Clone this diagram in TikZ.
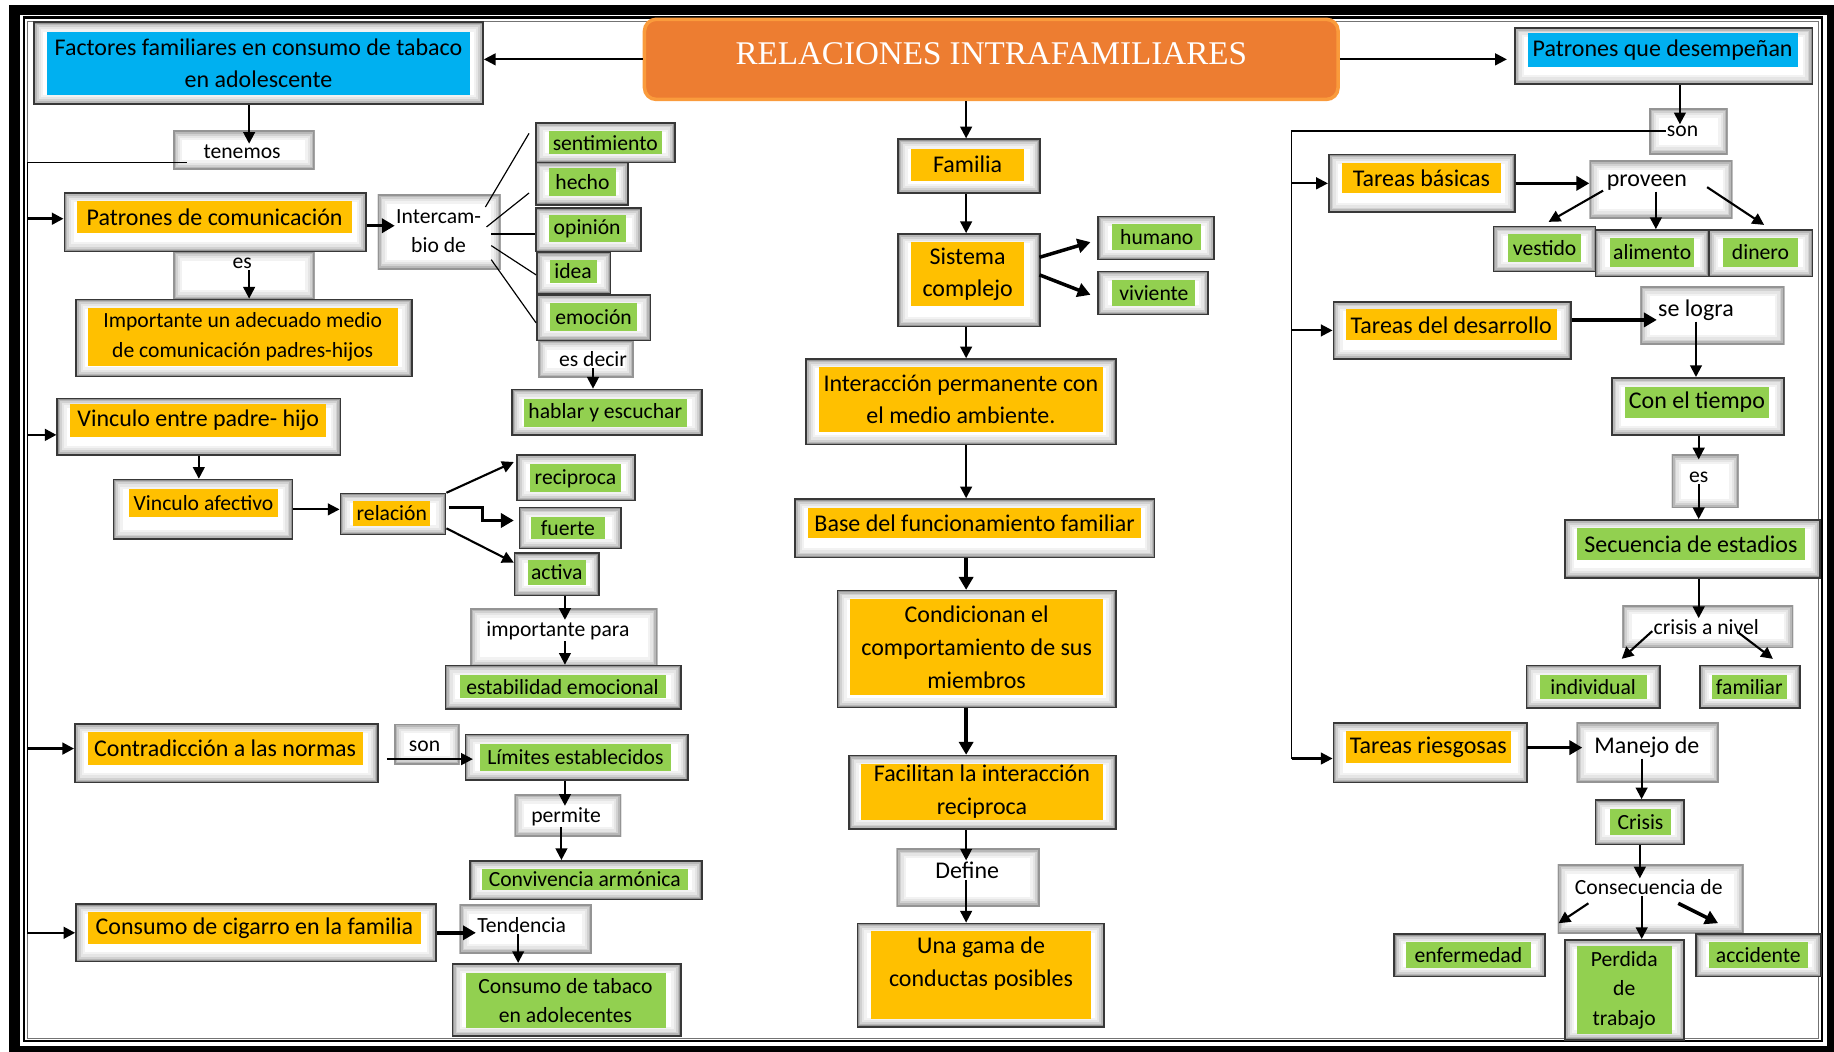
\documentclass[tikz,border=0pt]{standalone}
\usepackage{fontspec}
\setmainfont{Carlito}
\newfontfamily\titulo{Liberation Serif}
\usetikzlibrary{arrows.meta,fit}
\definecolor{amarillo}{RGB}{255,192,0}
\definecolor{verde}{RGB}{146,208,80}
\definecolor{azul}{RGB}{0,176,240}
\definecolor{naranja}{RGB}{237,125,49}
\definecolor{naranjaclaro}{RGB}{250,155,60}
\newcommand\grande{\fontsize{20.5}{28}\selectfont}
\newcommand\chico{\fontsize{18.5}{25}\selectfont}
\tikzset{
  brillo/.style={path picture={\foreach \w/\c in {16/5,12/10,8/18,5/28,2.5/42}
    \draw[line width=\w pt,black!\c] (path picture bounding box.south west) rectangle (path picture bounding box.north east);}},
  marco/.style={draw=black!78,line width=1.4pt,fill=white,inner sep=0pt,brillo},
  vacio/.style={fill=white,inner sep=0pt,brillo},
  cabecera/.style={fill=naranja,draw=naranjaclaro,line width=3pt,rounded corners=10pt,inner sep=0pt},
  amarillo/.style={fill=amarillo,inner sep=0pt},
  verde/.style={fill=verde,inner sep=0pt},
  azul/.style={fill=azul,inner sep=0pt},
  g/.style={font=\grande},
  c/.style={font=\chico},
  palabra/.style={inner sep=1pt,align=center},
  flecha/.style={line width=1.8pt,-{Triangle[length=10pt,width=10pt]}},
  gruesa/.style={line width=3pt,-{Triangle[length=11pt,width=12pt]}},
  linea/.style={line width=1pt}
}
\newcommand\concepto[6]{\node[marco,fit={#2}] (#1) {}; \node[#3,fit={#4}] (#1x) {}; \node[palabra,#5] (#1t) at (#1x) {#6};}
\newcommand\enlace[5]{\node[vacio,fit={#2}] (#1) {}; \node[palabra,#3] (#1x) at #4 {#5};}
\begin{document}
\begin{tikzpicture}[x=1pt,y=-1pt]
  \useasboundingbox (0,0) rectangle (1568,898.6);
  \draw[line width=9pt] (12.4,8.6) rectangle (1566.3,898.9);
  \draw[line width=2.2pt] (20.4,15.2) rectangle (1557.7,890);
  \draw[line width=0.9pt,black!55] (23.2,18.3) rectangle (1555,887.5);

  \enlace{ten}{(148,112) (269,145)}{c}{(207,130)}{tenemos}
  \enlace{es}{(148,215) (269,256)}{c}{(207,225)}{es}
  \enlace{inter}{(323,166) (428,230)}{c}{(375,197.5)}{Intercam-\\bio de}
  \enlace{esd}{(460,291) (542,323)}{c}{(507,307)}{es decir}
  \enlace{impp}{(402,520) (562,570)}{c}{(477,539)}{importante para}
  \enlace{son}{(337,619) (393,654)}{c}{(363,638)}{son}
  \enlace{perm}{(440,679) (531,715)}{c}{(484,698)}{permite}
  \enlace{tend}{(393,773) (506,815)}{c}{(446,791)}{Tendencia}
  \enlace{def}{(766.6,725.6) (889,774.7)}{g}{(827,744)}{Define}
  \enlace{sond}{(1410,92.6) (1477,132)}{c}{(1438.5,112)}{son}
  \enlace{prov}{(1359,137.6) (1481,186.7)}{g}{(1408,156)}{proveen}
  \enlace{selo}{(1402.5,245) (1525.5,294.4)}{g}{(1450,265)}{se logra}
  \enlace{esr}{(1429.3,389) (1486.5,434.3)}{c}{(1452.3,408)}{es}
  \enlace{niv}{(1387,517.3) (1533,554)}{c}{(1458.8,536.2)}{crisis a nivel}
  \enlace{man}{(1348,618) (1469.6,669)}{g}{(1408,638.5)}{Manejo de}
  \enlace{cons}{(1331.8,739) (1490.8,797.7)}{c}{(1409.6,758.7)}{Consecuencia de}

  \node[cabecera,fit={(551,16.5) (1144,85)}] (tit) {};
  \node[palabra,text=white,font={\titulo\fontsize{28.3}{32}\selectfont}] (titt) at ([shift={(0,-5)}]tit.center) {RELACIONES INTRAFAMILIARES};

  \concepto{fac}{(29,19) (413,89)}{azul}{(40,27) (402,81)}{g}{Factores familiares en consumo de tabaco\\en adolescente}
  \concepto{pc}{(55,165) (313,215)}{amarillo}{(66,172) (301,199)}{g}{Patrones de comunicación}
  \concepto{imp}{(65,256) (352,322)}{amarillo}{(75,263) (340,313)}{c}{Importante un adecuado medio\\de comunicación padres-hijos}
  \concepto{sen}{(458,105) (577,139)}{verde}{(469,112) (566,132)}{c}{sentimiento}
  \concepto{hec}{(458,139) (537,175)}{verde}{(469,144) (527,168)}{c}{hecho}
  \concepto{opi}{(458,178) (548,215)}{verde}{(469,184) (535,207)}{c}{opinión}
  \concepto{ide}{(459,216) (522,251)}{verde}{(470,222) (510,242)}{c}{idea}
  \concepto{emo}{(459,252) (556,291)}{verde}{(470,259) (545,283)}{c}{emoción}
  \concepto{hab}{(438,333) (600,372)}{verde}{(448,341) (587,365)}{c}{hablar y escuchar}
  \concepto{vin}{(49,340.6) (291,389)}{amarillo}{(60,345) (279,374)}{g}{Vinculo entre padre- hijo}
  \concepto{vaf}{(97,410) (250,461)}{amarillo}{(110,418) (238,442)}{c}{Vinculo afectivo}
  \concepto{rel}{(291,422) (381,457)}{amarillo}{(302,428) (368,450)}{c}{relación}
  \concepto{rec}{(442,389) (543,428)}{verde}{(453,397) (531,421)}{c}{reciproca}
  \concepto{fue}{(444,434) (531,469)}{verde}{(454,442) (517,461)}{c}{fuerte}
  \concepto{act}{(440,473) (512,509)}{verde}{(451,479) (501,500)}{c}{activa}
  \concepto{est}{(381,569) (582,606)}{verde}{(393,577) (569,597)}{c}{estabilidad emocional}
  \concepto{con}{(64,619) (323,669)}{amarillo}{(75,626) (310,654)}{g}{Contradicción a las normas}
  \concepto{lim}{(398,628) (588,667)}{verde}{(410,636) (574,659)}{c}{Límites establecidos}
  \concepto{arm}{(402,736) (600,769)}{verde}{(412,743) (588,761)}{c}{Convivencia armónica}
  \concepto{cig}{(65,773) (373,822)}{amarillo}{(75,780) (360,807)}{g}{Consumo de cigarro en la familia}
  \concepto{tab}{(387,824) (582,886)}{verde}{(398,832) (569,879)}{c}{Consumo de tabaco\\en adolecentes}

  \concepto{fam}{(768,119) (889,165)}{amarillo}{(779,127) (875.5,154.5)}{g}{Familia}
  \concepto{sis}{(768,200) (889,279)}{amarillo}{(779,207) (875.5,262)}{g}{Sistema\\complejo}
  \concepto{hum}{(939,185) (1038,222)}{verde}{(951,191.5) (1027,214)}{c}{humano}
  \concepto{viv}{(939,232) (1033,269)}{verde}{(951,239) (1022,262)}{c}{viviente}
  \concepto{int}{(689,307) (954,380)}{amarillo}{(700,314) (943,369)}{g}{Interacción permanente con\\el medio ambiente.}
  \concepto{bas}{(679.7,426.7) (987,476.5)}{amarillo}{(691,434) (975.5,460)}{g}{Base del funcionamiento familiar}
  \concepto{cnd}{(716,505) (954,605)}{amarillo}{(727,512.5) (943,594)}{g}{Condicionan el\\comportamiento de sus\\miembros}
  \concepto{fcl}{(726,646) (954,709)}{amarillo}{(736,653) (943,701)}{g}{Facilitan la interacción\\reciproca}
  \concepto{gam}{(733,789.5) (944,878)}{amarillo}{(745,796) (932.5,871.4)}{g,yshift=10pt}{Una gama de\\conductas posibles}

  \concepto{pqd}{(1295,23.7) (1549.5,72)}{azul}{(1306,28.5) (1537,57)}{g}{Patrones que desempeñan}
  \concepto{tb}{(1136,132) (1295,181.5)}{amarillo}{(1147,139.6) (1283.5,165.3)}{g}{Tareas básicas}
  \concepto{ves}{(1277,193.8) (1364,232)}{verde}{(1289.4,200) (1351.8,224.3)}{c}{vestido}
  \concepto{ali}{(1364,196.6) (1461,236.5)}{verde}{(1376.4,203.8) (1448.7,228)}{c}{alimento}
  \concepto{din}{(1461,196.6) (1549.5,236.5)}{verde}{(1473.3,203.8) (1537,228)}{c}{dinero}
  \concepto{td}{(1140,258) (1343,307)}{amarillo}{(1150.4,264.5) (1331,291)}{g}{Tareas del desarrollo}
  \concepto{tie}{(1378,323) (1525.5,372)}{verde}{(1389.3,330.6) (1512.3,357)}{g}{Con el tiempo}
  \concepto{sec}{(1338,444.5) (1556,494)}{verde}{(1348,451.6) (1543.4,478.7)}{g}{Secuencia de estadios}
  \concepto{ind}{(1305,569) (1419,605.3)}{verde}{(1316.4,577) (1407.8,597.2)}{c}{individual}
  \concepto{fml}{(1453.3,569) (1538.8,605.3)}{verde}{(1463.4,577) (1527.7,597.2)}{c}{familiar}
  \concepto{tr}{(1140,618) (1305.7,669)}{amarillo}{(1150.4,625) (1291.8,652.7)}{g}{Tareas riesgosas}
  \concepto{cri}{(1364,684) (1440,722)}{verde}{(1376.4,691.7) (1428.7,714)}{c}{Crisis}
  \concepto{enf}{(1191.9,798.7) (1321,835)}{verde}{(1202,805.5) (1308.7,827.2)}{c}{enfermedad}
  \concepto{per}{(1338,803.5) (1440,889)}{verde}{(1348,809) (1429.3,884)}{c}{Perdida\\de\\trabajo}
  \concepto{acc}{(1450.2,798.7) (1557,835)}{verde}{(1461,805.5) (1545.5,827.2)}{c}{accidente}

  \coordinate (ejeI) at (23.2,139);
  \coordinate (ejeD) at (1104.3,112);
  \coordinate (ejeC) at (826,0);

  \draw[flecha] (tit.west) -- (tit.west -| fac.east);
  \draw[flecha] (tit.east) -- ([xshift=-6pt]tit.east -| pqd.west);
  \draw[flecha] (tit.south -| ejeC) -- (fam.north -| ejeC);

  \draw[flecha] ([xshift=-8pt]fac.south) -- ([xshift=-8pt]fac.south |- tenx.north);
  \draw[linea] ([shift={(12,10.5)}]ten.west) -- (ejeI) -- (ejeI |- cig);
  \foreach \n/\d in {pc/-3,vin/7,con/-4,cig/0}
    \draw[flecha,line width=2.2pt] ([shift={(0,\d)}]ejeI |- \n) -- ([shift={(0,\d)}]\n.west);
  \draw[gruesa] ([shift={(0,3)}]pc.east) -- ([shift={(0,3)}]pc.east -| interx.west);
  \draw[flecha] ([shift={(6,0)}]esx.south) -- ([shift={(6,0)}]esx.south |- imp.north);
  \foreach \n/\a/\b in {sen/{2.5,-20.5}/{-5,-8},hec/{3.5,-3.5}/{-5,8},opi/{7.5,2.5}/{0,3.5},ide/{7.5,12.5}/{0,1.5},emo/{7.5,24.5}/{0,4.5}}
    \draw[linea] ([shift={(\a)}]interx.east) -- ([shift={(\b)}]\n.west);
  \draw[flecha] (esdx.south) -- (esdx.south |- hab.north);
  \draw[flecha] (vin.south) -- (vin.south |- vaf.north);
  \draw[flecha] (vaf.east) -- (vaf.east -| rel.west);
  \draw[flecha] (rel.north east) -- ([shift={(-2,-13.5)}]rec.west);
  \draw[gruesa] ([shift={(2,-5.5)}]rel.east) -- ++(29,0) |- ([shift={(-4,-6.5)}]fue.west);
  \draw[flecha] ([shift={(0,-6)}]rel.south east) -- ([shift={(0,-10)}]act.west);
  \draw[flecha] ([xshift=7pt]act.south) -- ([xshift=7pt]act.south |- imppx.north);
  \draw[flecha] ([xshift=6pt]imppx.south) -- ([xshift=6pt]imppx.south |- est.north);
  \draw[flecha] ([shift={(7,5)}]con.east) -- ([shift={(7,5)}]con.east -| lim.west);
  \draw[flecha] ([xshift=-10pt]lim.south) -- ([xshift=-10pt]lim.south |- permx.north);
  \draw[flecha] ([xshift=-4pt]permx.south) -- ([xshift=-4pt]permx.south |- arm.north);
  \draw[gruesa] (cig.east) -- (cig.east -| tendx.west);
  \draw[flecha] ([xshift=-3pt]tendx.south) -- ([xshift=-3pt]tendx.south |- tab.north);

  \draw[flecha] (fam.south -| ejeC) -- (sis.north -| ejeC);
  \draw[gruesa] ([shift={(-1,-19.5)}]sis.east) -- ([shift={(-6,3.5)}]hum.west);
  \draw[gruesa] ([shift={(-1,-4.5)}]sis.east) -- ([shift={(-6,1.5)}]viv.west);
  \draw[flecha] (sis.south -| ejeC) -- (int.north -| ejeC);
  \draw[flecha] (int.south -| ejeC) -- (bas.north -| ejeC);
  \draw[gruesa] (bas.south -| ejeC) -- (cnd.north -| ejeC);
  \draw[gruesa] (cnd.south -| ejeC) -- (fcl.north -| ejeC);
  \draw[flecha] (fcl.south -| ejeC) -- (defx.north -| ejeC);
  \draw[flecha] (defx.south -| ejeC) -- (gam.north -| ejeC);

  \draw[flecha] ([xshift=14pt]pqd.south) -- ([xshift=14pt]pqd.south |- sondx.north);
  \draw[linea] (sondx.west) -- (ejeD) -- ([shift={(0,5)}]ejeD |- tr);
  \foreach \n/\d in {tb/0,td/0,tr/5}
    \draw[flecha] ([shift={(0,\d)}]ejeD |- \n) -- ([shift={(0,\d)}]\n.west);
  \draw[gruesa] (tb.east) -- (tb.east -| prov.west);
  \draw[flecha] ([shift={(-2,7)}]provx.west) -- ([shift={(3.5,-3.4)}]ves.north);
  \draw[flecha] ([xshift=7.7pt]provx.south) -- ([xshift=7.7pt]provx.south |- ali.north);
  \draw[flecha] ([shift={(16,4)}]provx.east) -- ([shift={(3,-3.6)}]din.north);
  \draw[gruesa] ([shift={(0,-9)}]td.east) -- ([shift={(0,-9)}]td.east -| selox.west);
  \draw[flecha] (selox.south) -- (selox.south |- tie.north);
  \draw[flecha] (tie.south -| esrx) -- ([shift={(0,4)}]esrx |- esr.north);
  \draw[flecha] (esrx.south) -- (esrx.south |- sec.north);
  \draw[flecha] (sec.south -| esrx) -- (esrx |- nivx.north);
  \draw[flecha] ([shift={(0,3.4)}]nivx.west) -- ([shift={(24.5,-5)}]ind.north);
  \draw[flecha] ([shift={(26.7,4.1)}]nivx.center) -- ([shift={(19.7,-5)}]fml.north);
  \draw[gruesa] ([shift={(-1,-4.3)}]tr.east) -- ([shift={(5,-4.3)}]man.west);
  \draw[flecha] ([xshift=-4.5pt]manx.south) -- ([xshift=-4.5pt]manx.south |- cri.north);
  \draw[flecha] (cri.south) -- (cri.south |- consx.north);
  \draw[flecha] ([shift={(-51.6,13.6)}]consx.center) -- ([shift={(10.8,-8.7)}]enf.north east);
  \draw[flecha] ([shift={(-6,0)}]consx.south) -- ([shift={(-6,0)}]consx.south |- per.north);
  \draw[gruesa] ([shift={(25.2,13.6)}]consx.center) -- ([shift={(19.4,-8.7)}]acc.north west);
\end{tikzpicture}
\end{document}
